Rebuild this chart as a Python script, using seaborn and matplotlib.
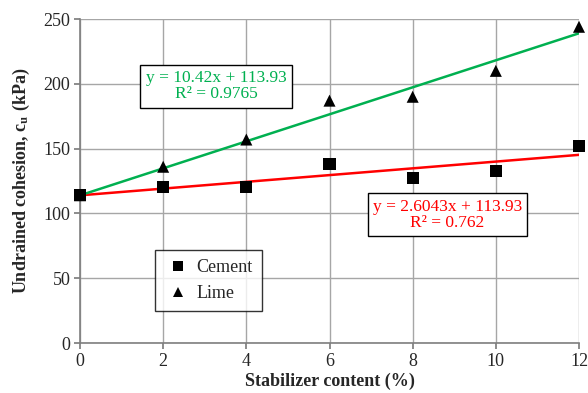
import numpy as np
import pandas as pd
import matplotlib
matplotlib.use("Agg")
import matplotlib.pyplot as plt
import seaborn as sns

# Stabilizer content (%) and undrained cohesion (kPa)
content = [0, 2, 4, 6, 8, 10, 12]
cement = [114, 120, 120, 138, 127, 133, 152]
lime = [114, 136, 157, 187, 190, 210, 244]

# Linear trend coefficients (slope, intercept) and R²
cement_fit = (2.6043, 113.93, 0.762)
lime_fit = (10.42, 113.93, 0.9765)

sns.set_theme(style="white")
plt.rcParams["font.family"] = ["Liberation Serif", "DejaVu Serif"]
plt.rcParams["mathtext.fontset"] = "stix"

fig = plt.figure(figsize=(5.88, 3.93), dpi=100)
ax = fig.add_axes([80 / 588, 1 - 343 / 393, 499 / 588, 324 / 393])

df = pd.DataFrame({
    "content": content * 2,
    "cu": cement + lime,
    "stabilizer": ["Cement"] * len(content) + ["Lime"] * len(content),
})

# Trend lines from the stated equations
xs = np.array([0, 12])
trend = pd.DataFrame({
    "content": np.concatenate([xs, xs]),
    "cu": np.concatenate([cement_fit[0] * xs + cement_fit[1],
                          lime_fit[0] * xs + lime_fit[1]]),
    "fit": ["Cement"] * 2 + ["Lime"] * 2,
})
sns.lineplot(data=trend, x="content", y="cu", hue="fit",
             palette={"Cement": "#ff0000", "Lime": "#00b050"},
             linewidth=1.8, legend=False, ax=ax, zorder=3)

sns.scatterplot(data=df, x="content", y="cu", style="stabilizer",
                markers={"Cement": "s", "Lime": "^"}, color="black",
                s=75, edgecolor="black", linewidth=0, ax=ax, zorder=4,
                clip_on=False)

ax.set_xlim(0, 12)
ax.set_ylim(0, 250)
ax.set_xticks(range(0, 13, 2))
ax.set_yticks(range(0, 251, 50))
ax.grid(True, color="#a6a6a6", linewidth=1.0)
ax.set_axisbelow(True)
for side in ["top", "right"]:
    ax.spines[side].set_visible(False)
for side in ["left", "bottom"]:
    ax.spines[side].set_color("#7f7f7f")
    ax.spines[side].set_linewidth(1.2)
ax.tick_params(axis="both", which="both", length=4, direction="out",
               color="#7f7f7f", labelsize=13, pad=3, left=True, bottom=True)

ax.set_xlabel("Stabilizer content (%)", fontsize=13, fontweight="bold", labelpad=2)
ax.set_ylabel(r"Undrained cohesion, c$_\mathbf{u}$ (kPa)", fontsize=13,
              fontweight="bold", labelpad=8)

box = dict(boxstyle="square,pad=0.3", facecolor="white", edgecolor="black", linewidth=1)
ax.text(3.27, 198, f"y = {lime_fit[0]:.2f}x + {lime_fit[1]:.2f}\nR² = {lime_fit[2]:.4f}",
        color="#00b050", fontsize=12.5, ha="center", va="center",
        linespacing=1.0, bbox=box, zorder=5)
ax.text(8.84, 99, f"y = {cement_fit[0]:.4f}x + {cement_fit[1]:.2f}\nR² = {cement_fit[2]:.3f}",
        color="#ff0000", fontsize=12.5, ha="center", va="center",
        linespacing=1.0, bbox=box, zorder=5)

leg = ax.legend(loc="upper left", bbox_to_anchor=(75 / 499, (343 - 250) / 324),
                borderaxespad=0, frameon=True, fancybox=False, edgecolor="black",
                fontsize=13, handletextpad=0.2, borderpad=0.5, labelspacing=0.5,
                handlelength=1.6, markerscale=0.8)
leg.get_frame().set_linewidth(1)

fig.savefig("out.png", dpi=100)
